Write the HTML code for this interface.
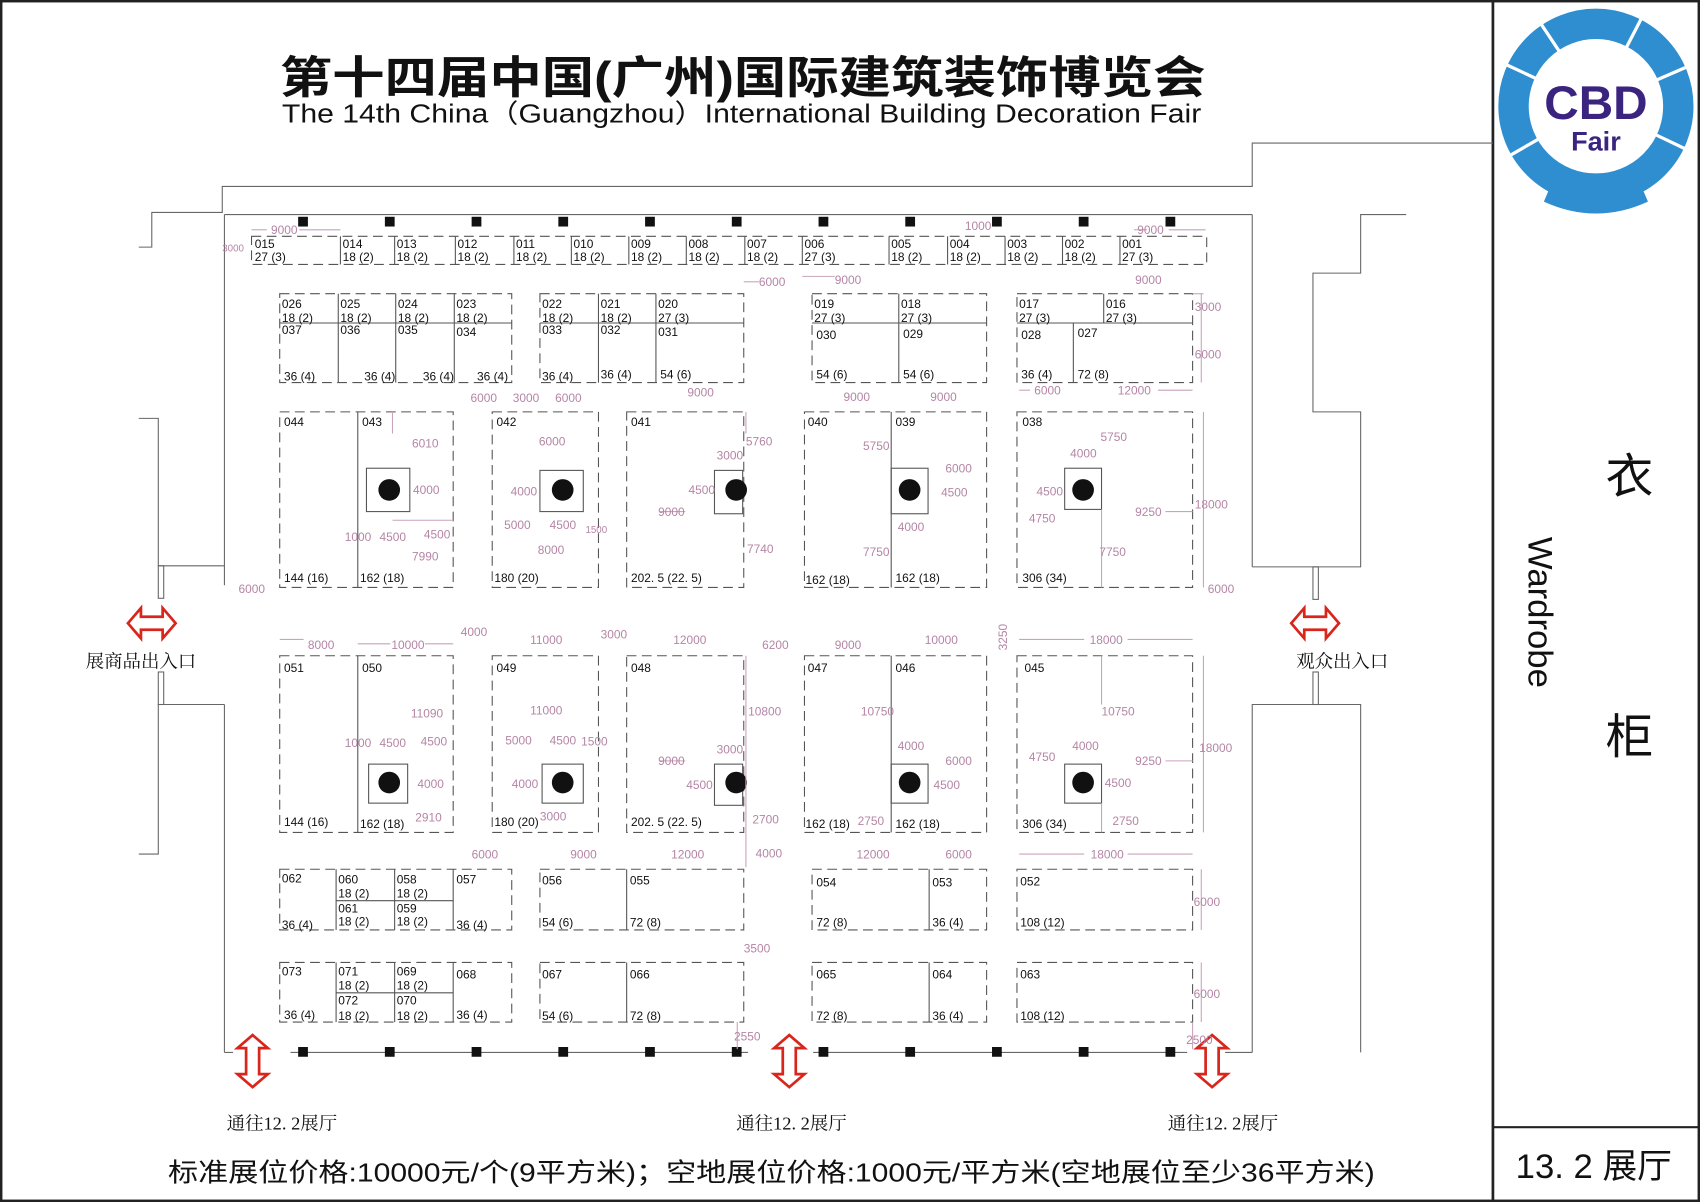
<!DOCTYPE html>
<html><head><meta charset="utf-8"><style>
html,body{margin:0;padding:0;background:#fff}
svg{display:block}
.t{font:11px "Liberation Sans",sans-serif;fill:#111}
.d{font:11px "Liberation Sans",sans-serif;fill:#b585a5}
.w{stroke:#666;stroke-width:1;fill:none}
.b{stroke:#555;stroke-width:1;fill:none;stroke-dasharray:9 5}
.s{stroke:#555;stroke-width:1;fill:none}
.cn{font-family:"Liberation Sans","Noto Sans CJK SC",sans-serif}
.sf{font-family:"Liberation Serif","Noto Serif CJK SC",serif}
</style></head><body>
<svg width="1700" height="1202" viewBox="0 0 1568 1109" preserveAspectRatio="none" xmlns="http://www.w3.org/2000/svg">
<rect x="1" y="1" width="1566" height="1107" fill="#fff" stroke="#222" stroke-width="2.5"/>
<line x1="1377" y1="1" x2="1377" y2="1108" stroke="#222" stroke-width="2.5"/>
<line x1="1377" y1="1040" x2="1567" y2="1040" stroke="#222" stroke-width="2"/>

<!-- title -->
<text x="258" y="86" class="cn" font-size="41" font-weight="bold" textLength="854" lengthAdjust="spacingAndGlyphs" fill="#111">第十四届中国(广州)国际建筑装饰博览会</text>
<text x="260" y="113" font-family="Liberation Sans,sans-serif" font-size="24" textLength="848" lengthAdjust="spacingAndGlyphs" fill="#111">The 14th China（Guangzhou）International Building Decoration Fair</text>

<!-- logo -->
<circle cx="1472" cy="98" r="76" fill="none" stroke="#2e8ed0" stroke-width="28"/>
<g stroke="#fff" stroke-width="3">
<line x1="1472" y1="98" x2="1390" y2="60"/><line x1="1472" y1="98" x2="1420" y2="20"/><line x1="1472" y1="98" x2="1515" y2="15"/><line x1="1472" y1="98" x2="1560" y2="60"/><line x1="1472" y1="98" x2="1560" y2="140"/><line x1="1472" y1="98" x2="1390" y2="145"/>
</g>
<circle cx="1472" cy="98" r="61" fill="#fff"/>
<path d="M1430 172 q42 18 84 0 l6 14 q-48 22 -96 0z" fill="#2e8ed0"/>
<text x="1472" y="110" text-anchor="middle" font-family="Liberation Sans,sans-serif" font-weight="bold" font-size="44" fill="#3b2380">CBD</text>
<text x="1472" y="139" text-anchor="middle" font-family="Liberation Sans,sans-serif" font-weight="bold" font-size="25" fill="#3b2380">Fair</text>

<!-- right panel -->
<text x="1503" y="455" text-anchor="middle" class="cn" font-size="44" fill="#111">衣</text>
<text x="1503" y="695" text-anchor="middle" class="cn" font-size="44" fill="#111">柜</text>
<text transform="translate(1410,565) rotate(90)" text-anchor="middle" font-family="Liberation Sans,sans-serif" font-size="32" fill="#111">Wardrobe</text>
<text x="1470" y="1087" text-anchor="middle" class="cn" font-size="32" fill="#111">13. 2 展厅</text>

<!-- bottom price -->
<text x="155" y="1090" class="cn" font-size="24" textLength="1113" lengthAdjust="spacingAndGlyphs" fill="#111">标准展位价格:10000元/个(9平方米)；空地展位价格:1000元/平方米(空地展位至少36平方米)</text>

<!-- walls -->
<g class="w">
<polyline points="128,228 140,228 140,196 205,196 205,172 1155,172 1155,132 1377,132"/>
<line x1="207" y1="198" x2="1155" y2="198"/>
<polyline points="128,386 146,386 146,522 207,522"/>
<line x1="207" y1="198" x2="207" y2="540"/>
<rect x="146" y="522" width="5" height="30"/>
<rect x="146" y="620" width="5" height="30"/>
<polyline points="207,650 146,650 146,788 128,788"/>
<line x1="207" y1="650" x2="207" y2="971"/>
<line x1="1155" y1="198" x2="1155" y2="523"/>
<polyline points="1297,198 1255,198 1255,252 1211,252 1211,380 1255,380 1255,523 1155,523"/>
<rect x="1211" y="523" width="5" height="30"/>
<rect x="1211" y="620" width="5" height="30"/>
<polyline points="1155,971 1155,650 1255,650 1255,971"/>
<line x1="268" y1="971" x2="690" y2="971"/>
<line x1="750" y1="971" x2="1095" y2="971"/>
<line x1="207" y1="971" x2="215" y2="971"/>
<line x1="1130" y1="971" x2="1155" y2="971"/>
</g>
<g fill="#111">
<rect x="275" y="200" width="9" height="9"/><rect x="355" y="200" width="9" height="9"/><rect x="435" y="200" width="9" height="9"/><rect x="515" y="200" width="9" height="9"/><rect x="595" y="200" width="9" height="9"/><rect x="675" y="200" width="9" height="9"/><rect x="755" y="200" width="9" height="9"/><rect x="835" y="200" width="9" height="9"/><rect x="915" y="200" width="9" height="9"/><rect x="995" y="200" width="9" height="9"/><rect x="1075" y="200" width="9" height="9"/>
<rect x="275" y="966" width="9" height="9"/><rect x="355" y="966" width="9" height="9"/><rect x="435" y="966" width="9" height="9"/><rect x="515" y="966" width="9" height="9"/><rect x="595" y="966" width="9" height="9"/><rect x="675" y="966" width="9" height="9"/><rect x="755" y="966" width="9" height="9"/><rect x="835" y="966" width="9" height="9"/><rect x="915" y="966" width="9" height="9"/><rect x="995" y="966" width="9" height="9"/><rect x="1075" y="966" width="9" height="9"/>
</g>

<!-- arrows -->
<g fill="#fff" stroke="#d9261c" stroke-width="2.5" stroke-linejoin="miter">
<path d="M118,575 l12,-14 v8 h20 v-8 l12,14 l-12,14 v-8 h-20 v8z"/>
<path d="M1191,575 l12,-14 v8 h20 v-8 l12,14 l-12,14 v-8 h-20 v8z"/>
<path d="M233,955 l14,12 h-8 v24 h8 l-14,12 l-14,-12 h8 v-24 h-8z"/>
<path d="M728,955 l14,12 h-8 v24 h8 l-14,12 l-14,-12 h8 v-24 h-8z"/>
<path d="M1118,955 l14,12 h-8 v24 h8 l-14,12 l-14,-12 h8 v-24 h-8z"/>
</g>
<g class="sf" font-size="17" fill="#111" text-anchor="middle">
<text x="130" y="616">展商品出入口</text>
<text x="1238" y="616">观众出入口</text>
<text x="260" y="1042">通往12. 2展厅</text>
<text x="730" y="1042">通往12. 2展厅</text>
<text x="1128" y="1042">通往12. 2展厅</text>
</g>

<!-- Row 1 -->
<rect class="b" x="232" y="218" width="881" height="26"/>
<g class="s">
<line x1="314" y1="218" x2="314" y2="244"/><line x1="364" y1="218" x2="364" y2="244"/><line x1="420" y1="218" x2="420" y2="244"/><line x1="474" y1="218" x2="474" y2="244"/><line x1="527" y1="218" x2="527" y2="244"/><line x1="580" y1="218" x2="580" y2="244"/><line x1="633" y1="218" x2="633" y2="244"/><line x1="687" y1="218" x2="687" y2="244"/><line x1="740" y1="218" x2="740" y2="244"/><line x1="820" y1="218" x2="820" y2="244"/><line x1="874" y1="218" x2="874" y2="244"/><line x1="927" y1="218" x2="927" y2="244"/><line x1="980" y1="218" x2="980" y2="244"/><line x1="1033" y1="218" x2="1033" y2="244"/>
</g>
<g class="t">
<text x="235" y="229">015</text><text x="235" y="241">27 (3)</text>
<text x="316" y="229">014</text><text x="316" y="241">18 (2)</text>
<text x="366" y="229">013</text><text x="366" y="241">18 (2)</text>
<text x="422" y="229">012</text><text x="422" y="241">18 (2)</text>
<text x="476" y="229">011</text><text x="476" y="241">18 (2)</text>
<text x="529" y="229">010</text><text x="529" y="241">18 (2)</text>
<text x="582" y="229">009</text><text x="582" y="241">18 (2)</text>
<text x="635" y="229">008</text><text x="635" y="241">18 (2)</text>
<text x="689" y="229">007</text><text x="689" y="241">18 (2)</text>
<text x="742" y="229">006</text><text x="742" y="241">27 (3)</text>
<text x="822" y="229">005</text><text x="822" y="241">18 (2)</text>
<text x="876" y="229">004</text><text x="876" y="241">18 (2)</text>
<text x="929" y="229">003</text><text x="929" y="241">18 (2)</text>
<text x="982" y="229">002</text><text x="982" y="241">18 (2)</text>
<text x="1035" y="229">001</text><text x="1035" y="241">27 (3)</text>
</g>

<!-- Row 2 -->
<rect class="b" x="258" y="271" width="214" height="82"/>
<rect class="b" x="498" y="271" width="188" height="82"/>
<rect class="b" x="749" y="271" width="161" height="82"/>
<rect class="b" x="938" y="271" width="162" height="82"/>
<g class="s">
<line x1="258" y1="298" x2="472" y2="298"/><line x1="312" y1="271" x2="312" y2="353"/><line x1="365" y1="271" x2="365" y2="353"/><line x1="419" y1="271" x2="419" y2="353"/>
<line x1="498" y1="298" x2="686" y2="298"/><line x1="552" y1="271" x2="552" y2="353"/><line x1="605" y1="271" x2="605" y2="353"/>
<line x1="749" y1="298" x2="910" y2="298"/><line x1="829" y1="271" x2="829" y2="353"/>
<line x1="938" y1="298" x2="1100" y2="298"/><line x1="1018" y1="271" x2="1018" y2="298"/><line x1="990" y1="298" x2="990" y2="353"/>
</g>
<g class="t">
<text x="260" y="284">026</text><text x="260" y="297">18 (2)</text><text x="260" y="308">037</text><text x="262" y="351">36 (4)</text>
<text x="314" y="284">025</text><text x="314" y="297">18 (2)</text><text x="314" y="308">036</text><text x="336" y="351">36 (4)</text>
<text x="367" y="284">024</text><text x="367" y="297">18 (2)</text><text x="367" y="308">035</text><text x="390" y="351">36 (4)</text>
<text x="421" y="284">023</text><text x="421" y="297">18 (2)</text><text x="421" y="310">034</text><text x="440" y="351">36 (4)</text>
<text x="500" y="284">022</text><text x="500" y="297">18 (2)</text><text x="500" y="308">033</text><text x="500" y="351">36 (4)</text>
<text x="554" y="284">021</text><text x="554" y="297">18 (2)</text><text x="554" y="308">032</text><text x="554" y="349">36 (4)</text>
<text x="607" y="284">020</text><text x="607" y="297">27 (3)</text><text x="607" y="310">031</text><text x="609" y="349">54 (6)</text>
<text x="751" y="284">019</text><text x="751" y="297">27 (3)</text><text x="753" y="313">030</text><text x="753" y="349">54 (6)</text>
<text x="831" y="284">018</text><text x="831" y="297">27 (3)</text><text x="833" y="312">029</text><text x="833" y="349">54 (6)</text>
<text x="940" y="284">017</text><text x="940" y="297">27 (3)</text><text x="942" y="313">028</text><text x="942" y="349">36 (4)</text>
<text x="1020" y="284">016</text><text x="1020" y="297">27 (3)</text><text x="994" y="311">027</text><text x="994" y="349">72 (8)</text>
</g>

<!-- Row 3 & 4 big blocks -->
<g class="b">
<rect x="258" y="380" width="160" height="162"/><rect x="454" y="380" width="98" height="162"/><rect x="578" y="380" width="108" height="162"/><rect x="742" y="380" width="168" height="162"/><rect x="938" y="380" width="162" height="162"/>
<rect x="258" y="605" width="160" height="163"/><rect x="454" y="605" width="98" height="163"/><rect x="578" y="605" width="108" height="163"/><rect x="742" y="605" width="168" height="163"/><rect x="938" y="605" width="162" height="163"/>
</g>
<g class="s">
<line x1="330" y1="380" x2="330" y2="542"/><line x1="822" y1="380" x2="822" y2="542"/>
<line x1="330" y1="605" x2="330" y2="768"/><line x1="822" y1="605" x2="822" y2="768"/>
<rect x="338" y="432" width="40" height="40"/><rect x="498" y="434" width="40" height="38"/><rect x="659" y="434" width="26" height="40"/><rect x="822" y="432" width="34" height="42"/><rect x="982" y="432" width="34" height="38"/>
<rect x="340" y="705" width="36" height="36"/><rect x="500" y="705" width="38" height="36"/><rect x="659" y="705" width="26" height="38"/><rect x="822" y="705" width="34" height="36"/><rect x="982" y="705" width="34" height="36"/>
</g>
<g fill="#111">
<circle cx="359" cy="452" r="10"/><circle cx="519" cy="452" r="10"/><circle cx="679" cy="452" r="10"/><circle cx="839" cy="452" r="10"/><circle cx="999" cy="452" r="10"/>
<circle cx="359" cy="722" r="10"/><circle cx="519" cy="722" r="10"/><circle cx="679" cy="722" r="10"/><circle cx="839" cy="722" r="10"/><circle cx="999" cy="722" r="10"/>
</g>
<g class="t">
<text x="262" y="393">044</text><text x="334" y="393">043</text><text x="458" y="393">042</text><text x="582" y="393">041</text><text x="745" y="393">040</text><text x="826" y="393">039</text><text x="943" y="393">038</text>
<text x="262" y="537">144 (16)</text><text x="332" y="537">162 (18)</text><text x="456" y="537">180 (20)</text><text x="582" y="537">202. 5 (22. 5)</text><text x="743" y="539">162 (18)</text><text x="826" y="537">162 (18)</text><text x="943" y="537">306 (34)</text>
<text x="262" y="620">051</text><text x="334" y="620">050</text><text x="458" y="620">049</text><text x="582" y="620">048</text><text x="745" y="620">047</text><text x="826" y="620">046</text><text x="945" y="620">045</text>
<text x="262" y="762">144 (16)</text><text x="332" y="764">162 (18)</text><text x="456" y="762">180 (20)</text><text x="582" y="762">202. 5 (22. 5)</text><text x="743" y="764">162 (18)</text><text x="826" y="764">162 (18)</text><text x="943" y="764">306 (34)</text>
</g>

<!-- Row 5 & 6 -->
<g class="b">
<rect x="258" y="802" width="214" height="56"/><rect x="498" y="802" width="188" height="56"/><rect x="749" y="802" width="161" height="56"/><rect x="938" y="802" width="162" height="56"/>
<rect x="258" y="888" width="214" height="55"/><rect x="498" y="888" width="188" height="55"/><rect x="749" y="888" width="161" height="55"/><rect x="938" y="888" width="162" height="55"/>
</g>
<g class="s">
<line x1="310" y1="802" x2="310" y2="858"/><line x1="364" y1="802" x2="364" y2="858"/><line x1="418" y1="802" x2="418" y2="858"/><line x1="310" y1="831" x2="418" y2="831"/>
<line x1="578" y1="802" x2="578" y2="858"/><line x1="857" y1="802" x2="857" y2="858"/>
<line x1="310" y1="888" x2="310" y2="943"/><line x1="364" y1="888" x2="364" y2="943"/><line x1="418" y1="888" x2="418" y2="943"/><line x1="310" y1="916" x2="418" y2="916"/>
<line x1="578" y1="888" x2="578" y2="943"/><line x1="857" y1="888" x2="857" y2="943"/>
</g>
<g class="t">
<text x="260" y="814">062</text><text x="260" y="857">36 (4)</text>
<text x="312" y="815">060</text><text x="312" y="828">18 (2)</text><text x="312" y="842">061</text><text x="312" y="854">18 (2)</text>
<text x="366" y="815">058</text><text x="366" y="828">18 (2)</text><text x="366" y="842">059</text><text x="366" y="854">18 (2)</text>
<text x="421" y="815">057</text><text x="421" y="857">36 (4)</text>
<text x="500" y="816">056</text><text x="500" y="855">54 (6)</text><text x="581" y="816">055</text><text x="581" y="855">72 (8)</text>
<text x="753" y="818">054</text><text x="753" y="855">72 (8)</text><text x="860" y="818">053</text><text x="860" y="855">36 (4)</text>
<text x="941" y="817">052</text><text x="941" y="855">108 (12)</text>
<text x="260" y="900">073</text><text x="262" y="940">36 (4)</text>
<text x="312" y="900">071</text><text x="312" y="913">18 (2)</text><text x="312" y="927">072</text><text x="312" y="941">18 (2)</text>
<text x="366" y="900">069</text><text x="366" y="913">18 (2)</text><text x="366" y="927">070</text><text x="366" y="941">18 (2)</text>
<text x="421" y="903">068</text><text x="421" y="940">36 (4)</text>
<text x="500" y="903">067</text><text x="500" y="941">54 (6)</text><text x="581" y="903">066</text><text x="581" y="941">72 (8)</text>
<text x="753" y="903">065</text><text x="753" y="941">72 (8)</text><text x="860" y="903">064</text><text x="860" y="941">36 (4)</text>
<text x="941" y="903">063</text><text x="941" y="941">108 (12)</text>
</g>

<!-- dimension lines (subset) -->
<g stroke="#c9a3bb" stroke-width="1" fill="none">
<line x1="232" y1="212" x2="246" y2="212"/><line x1="276" y1="212" x2="314" y2="212"/>
<line x1="1046" y1="212" x2="1058" y2="212"/><line x1="1078" y1="212" x2="1112" y2="212"/>
<line x1="686" y1="260" x2="700" y2="260"/><line x1="740" y1="255" x2="770" y2="255"/>
<line x1="1100" y1="271" x2="1110" y2="271"/><line x1="1108" y1="271" x2="1108" y2="353"/>
<line x1="1110" y1="380" x2="1110" y2="542"/><line x1="1110" y1="605" x2="1110" y2="768"/>
<line x1="1108" y1="802" x2="1108" y2="858"/><line x1="1108" y1="888" x2="1108" y2="943"/>
<line x1="688" y1="605" x2="688" y2="800"/><line x1="688" y1="380" x2="688" y2="400"/>
<line x1="362" y1="380" x2="362" y2="400"/><line x1="362" y1="480" x2="418" y2="480"/>
<line x1="609" y1="472" x2="632" y2="472"/><line x1="608" y1="702" x2="632" y2="702"/>
<line x1="1075" y1="472" x2="1100" y2="472"/>
<line x1="1075" y1="702" x2="1100" y2="702"/><line x1="1016" y1="470" x2="1016" y2="542"/>
<line x1="1016" y1="741" x2="1016" y2="768"/><line x1="1016" y1="605" x2="1016" y2="650"/>
<line x1="680" y1="943" x2="680" y2="968"/><line x1="1100" y1="943" x2="1100" y2="968"/>
<line x1="258" y1="590" x2="280" y2="590"/><line x1="330" y1="594" x2="360" y2="594"/><line x1="392" y1="594" x2="418" y2="594"/>
<line x1="940" y1="590" x2="1000" y2="590"/><line x1="1040" y1="590" x2="1100" y2="590"/>
<line x1="940" y1="788" x2="1000" y2="788"/><line x1="1040" y1="788" x2="1100" y2="788"/>
<line x1="940" y1="360" x2="950" y2="360"/><line x1="1068" y1="360" x2="1100" y2="360"/>
</g>
<g class="d">
<text x="250" y="216">9000</text><text x="205" y="232" font-size="9">3000</text><text x="890" y="212">1000</text><text x="1049" y="216">9000</text>
<text x="700" y="264">6000</text><text x="770" y="262">9000</text><text x="1047" y="262">9000</text><text x="1102" y="287">3000</text><text x="1102" y="331">6000</text>
<text x="434" y="371">6000</text><text x="473" y="371">3000</text><text x="512" y="371">6000</text><text x="634" y="366">9000</text><text x="778" y="370">9000</text><text x="858" y="370">9000</text><text x="954" y="364">6000</text><text x="1031" y="364">12000</text>
<text x="380" y="413">6010</text><text x="381" y="456">4000</text><text x="318" y="499">1000</text><text x="350" y="499">4500</text><text x="391" y="497">4500</text><text x="380" y="517">7990</text>
<text x="497" y="411">6000</text><text x="471" y="457">4000</text><text x="465" y="488">5000</text><text x="507" y="488">4500</text><text x="540" y="492" font-size="9">1500</text><text x="496" y="511">8000</text>
<text x="688" y="411">5760</text><text x="661" y="424">3000</text><text x="635" y="456">4500</text><text x="607" y="476">9000</text><text x="689" y="510">7740</text>
<text x="796" y="415">5750</text><text x="872" y="436">6000</text><text x="868" y="458">4500</text><text x="828" y="490">4000</text><text x="796" y="513">7750</text>
<text x="1015" y="407">5750</text><text x="987" y="422">4000</text><text x="956" y="457">4500</text><text x="949" y="482">4750</text><text x="1047" y="476">9250</text><text x="1014" y="513">7750</text><text x="1102" y="469">18000</text>
<text x="220" y="547">6000</text><text x="1114" y="547">6000</text>
<text x="284" y="599">8000</text><text x="361" y="599">10000</text><text x="425" y="587">4000</text><text x="489" y="594">11000</text><text x="554" y="589">3000</text><text x="621" y="594">12000</text><text x="703" y="599">6200</text><text x="770" y="599">9000</text><text x="853" y="594">10000</text><text transform="translate(929,600) rotate(-90)">3250</text><text x="1005" y="594">18000</text>
<text x="379" y="662">11090</text><text x="318" y="689">1000</text><text x="350" y="689">4500</text><text x="388" y="688">4500</text><text x="385" y="727">4000</text><text x="383" y="758">2910</text>
<text x="489" y="659">11000</text><text x="466" y="687">5000</text><text x="507" y="687">4500</text><text x="536" y="688">1500</text><text x="472" y="727">4000</text><text x="498" y="757">3000</text>
<text x="690" y="660">10800</text><text x="607" y="706">9000</text><text x="661" y="695">3000</text><text x="633" y="728">4500</text><text x="694" y="760">2700</text><text x="697" y="791">4000</text>
<text x="794" y="660">10750</text><text x="828" y="692">4000</text><text x="872" y="706">6000</text><text x="861" y="728">4500</text><text x="791" y="761">2750</text>
<text x="1016" y="660">10750</text><text x="949" y="702">4750</text><text x="989" y="692">4000</text><text x="1047" y="706">9250</text><text x="1019" y="726">4500</text><text x="1026" y="761">2750</text><text x="1106" y="694">18000</text>
<text x="435" y="792">6000</text><text x="526" y="792">9000</text><text x="619" y="792">12000</text><text x="790" y="792">12000</text><text x="872" y="792">6000</text><text x="1006" y="792">18000</text><text x="1101" y="836">6000</text>
<text x="686" y="879">3500</text><text x="1101" y="921">6000</text><text x="677" y="960">2550</text><text x="1094" y="963">2500</text>
</g>
</svg>
</body></html>
